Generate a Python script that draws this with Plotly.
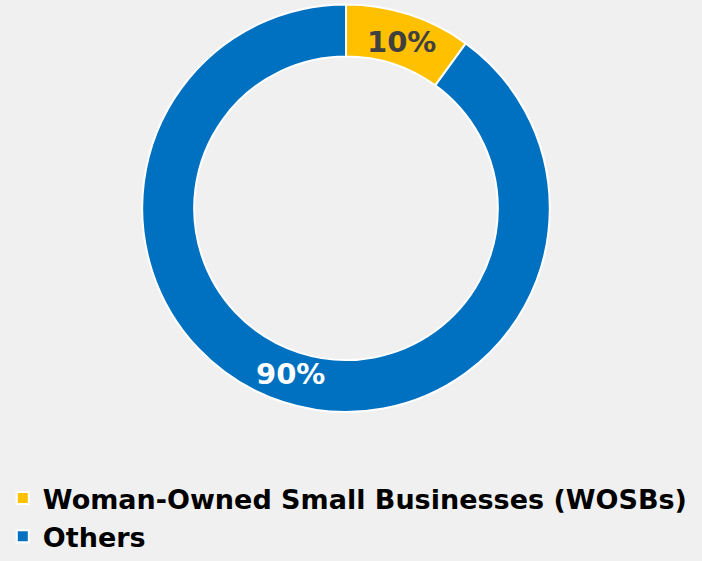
import math
import plotly.graph_objects as go

labels = ["Woman-Owned Small Businesses (WOSBs)", "Others"]
values = [10, 90]
colors = ["#FFC000", "#0070C0"]
text_colors = ["#404040", "#FFFFFF"]

W, H = 702, 561
cx, cy, r = 346, 212, 204
hole = 0.745
pad = 3.5  # plotly draws the pie slightly inside its domain

fig = go.Figure(go.Pie(
    labels=labels,
    values=values,
    hole=hole,
    sort=False,
    direction="clockwise",
    rotation=0,
    marker=dict(colors=colors, line=dict(color="white", width=2)),
    textinfo="none",
    domain=dict(x=[(cx - r - pad) / W, (cx + r + pad) / W],
                y=[1 - (cy + r + pad) / H, 1 - (cy - r - pad) / H]),
    hoverinfo="label+percent",
))

# percentage labels at the middle of each ring segment
total = sum(values)
rm = r * (1 + hole) / 2
start = 0.0
for v, tc in zip(values, text_colors):
    mid = (start + v / 2) / total * 2 * math.pi
    start += v
    px = cx + rm * math.sin(mid)
    py = cy - rm * math.cos(mid)
    fig.add_annotation(
        x=px / W, y=1 - py / H, xref="paper", yref="paper",
        text=f"{round(v / total * 100)}%", showarrow=False,
        font=dict(family="DejaVu Sans", size=29, color=tc, weight="bold"),
        xanchor="center", yanchor="middle",
    )

fig.update_layout(
    width=W, height=H,
    margin=dict(l=0, r=0, t=0, b=0),
    paper_bgcolor="#F0F0F0",
    plot_bgcolor="#F0F0F0",
    showlegend=True,
    legend=dict(
        x=0.004, y=1 - 483 / H, xanchor="left", yanchor="top",
        orientation="v",
        font=dict(family="DejaVu Sans", size=27, color="#000000", weight="bold"),
        itemwidth=30,
        tracegroupgap=0,
    ),
)

fig.write_html(
    "out.html",
    config={"displayModeBar": False},
    post_script="document.body.style.margin='0';document.body.style.background='#F0F0F0';",
)
